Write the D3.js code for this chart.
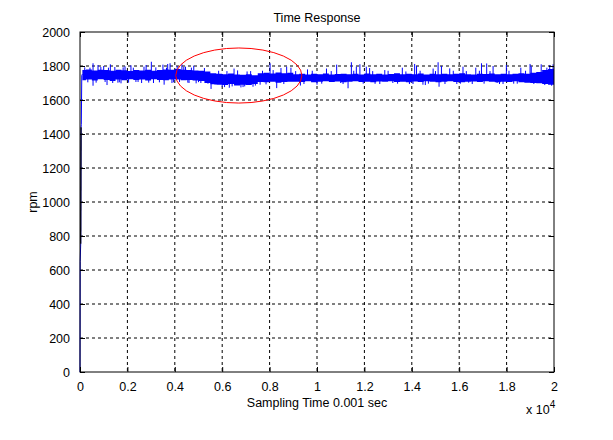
<!DOCTYPE html>
<html>
<head>
<meta charset="utf-8">
<script src="https://cdn.jsdelivr.net/npm/d3@7"></script>
<style>
  body { margin: 0; background: #fff; }
  text { font-family: "Liberation Sans", Arial, sans-serif; font-size: 12.5px; fill: #000; }
</style>
</head>
<body>
<div id="chart"></div>
<script>
// start-up transient (sample index, rpm)
const startT = [0, 8, 30, 45, 55, 75, 100];
const startRpm = [0, 650, 755, 1440, 1455, 1745, 1752];
const blackT = [30, 45];
const blackRpm = [755, 1440];

// noise band, one low/high pair per 250 samples
const blockSize = 250;
const bandHigh = [
  1776, 1780, 1774, 1778, 1776, 1772, 1778, 1775, 1770, 1776, 1774, 1778, 1772, 1776, 1780, 1778,
  1782, 1778, 1776, 1774, 1772, 1768,
  1758, 1755, 1752, 1756, 1750, 1748, 1752, 1746,
  1758, 1760, 1756, 1762, 1758, 1760,
  1752, 1755, 1750, 1754, 1752, 1756, 1750, 1753, 1755, 1751,
  1754, 1750, 1756, 1752, 1754, 1750, 1753, 1757, 1751, 1754,
  1752, 1756, 1750, 1754, 1752, 1755, 1751, 1754, 1757, 1752,
  1750, 1755, 1753, 1756, 1752, 1754, 1751, 1755, 1758, 1754,
  1760, 1764,
  1776, 1782
];
const bandLow = [
  1716, 1720, 1714, 1722, 1718, 1712, 1720, 1716, 1722, 1718, 1720, 1714, 1722, 1718, 1716, 1720,
  1720, 1716, 1718, 1714, 1712, 1700,
  1692, 1690, 1688, 1694, 1686, 1690, 1688, 1694,
  1706, 1704, 1708, 1702, 1706, 1708,
  1708, 1706, 1710, 1704, 1708, 1710, 1706, 1709, 1704, 1708,
  1710, 1706, 1708, 1704, 1709, 1707, 1710, 1706, 1708, 1704,
  1709, 1706, 1710, 1707, 1705, 1708, 1710, 1706, 1704, 1708,
  1709, 1706, 1710, 1707, 1705, 1708, 1706, 1710, 1704, 1702,
  1700, 1698,
  1694, 1690
];

// isolated spikes out of the band
const spikeT = [
  550, 550, 760, 1000, 1140, 1280, 1600, 1730, 1900, 2150, 2360, 2600, 2790, 3010, 3100, 3500,
  3550, 3700, 3800, 3950, 4100, 4300, 4450, 4600, 4800, 4900, 5000,
  5530, 5700, 6100, 6300, 6500, 6790, 6950, 7200, 7400, 7600, 8020, 8300, 8480, 8720, 8900,
  9300, 9600, 10000, 10400, 10830, 11000, 11310, 11450, 11660, 11810, 12080, 12220, 12450, 12860,
  13200, 13600, 13900, 14120, 14200, 14470, 14570, 14900, 15110, 15150, 15250, 15600, 15900, 16160,
  16400, 16700, 16940, 17160, 17430, 17600, 17850, 17990, 18300, 18600, 18990, 19040, 19300, 19460,
  19610, 19820, 19900, 19960
];
const spikeRpm = [
  1816, 1684, 1806, 1800, 1688, 1810, 1702, 1698, 1798, 1804, 1706, 1700, 1806, 1825, 1700, 1808,
  1690, 1812, 1816, 1704, 1800, 1810, 1796, 1700, 1802, 1698, 1705,
  1665, 1690, 1676, 1672, 1785, 1674, 1680, 1770, 1685, 1690, 1816, 1670, 1788, 1796, 1790,
  1685, 1780, 1690, 1785, 1808, 1700, 1669, 1822, 1796, 1810, 1796, 1788, 1695, 1776,
  1700, 1790, 1694, 1812, 1800, 1690, 1688, 1785, 1822, 1678, 1800, 1786, 1694, 1796,
  1702, 1790, 1816, 1815, 1800, 1700, 1694, 1806, 1696, 1790, 1812, 1798, 1700, 1810,
  1688, 1806, 1684, 1810
];

// short excursions just past the band edge (rough texture)
const rippleT = [
  200, 330, 420, 680, 880, 1060, 1200, 1380, 1470, 1660, 1820, 2050, 2250, 2450, 2700, 2900,
  3200, 3350, 3650, 3880, 4200, 4380, 4550, 4700, 5100, 5250, 5400, 5850, 6000, 6200,
  6420, 6650, 6880, 7050, 7300, 7700, 7850, 8150, 8600, 9100, 9450, 9800, 10200, 10600,
  11100, 11550, 11950, 12350, 12650, 13000, 13400, 13750, 14050, 14350, 14700, 15000, 15400,
  15750, 16050, 16300, 16550, 16850, 17050, 17300, 17700, 18100, 18450, 18800, 19150, 19700
];
const rippleRpm = [
  1792, 1704, 1790, 1702, 1794, 1706, 1790, 1700, 1794, 1704, 1792, 1702, 1790, 1706, 1796, 1702,
  1792, 1704, 1790, 1700, 1706, 1794, 1702, 1790, 1700, 1788, 1696, 1772, 1678, 1770,
  1680, 1774, 1676, 1768, 1678, 1772, 1692, 1776, 1694, 1770, 1694, 1772, 1696, 1770,
  1694, 1772, 1696, 1770, 1694, 1772, 1696, 1768, 1694, 1772, 1696, 1770, 1694,
  1772, 1696, 1770, 1694, 1772, 1696, 1770, 1694, 1772, 1696, 1772, 1694, 1790
];

const xTicks = [0, 2000, 4000, 6000, 8000, 10000, 12000, 14000, 16000, 18000, 20000];
const xTickLabels = ["0", "0.2", "0.4", "0.6", "0.8", "1", "1.2", "1.4", "1.6", "1.8", "2"];
const yTicks = [0, 200, 400, 600, 800, 1000, 1200, 1400, 1600, 1800, 2000];

// red ellipse marking the dip (centre and radii in data units)
const markCenter = [6700, 1744];
const markRadius = [2660, 162];

const margin = { top: 32, right: 59, bottom: 68, left: 80 },
      width = 613 - margin.left - margin.right,
      height = 440 - margin.top - margin.bottom;

const svg = d3.select("#chart").append("svg")
  .attr("width", 613)
  .attr("height", 440);

const g = svg.append("g")
  .attr("transform", `translate(${margin.left},${margin.top})`);

const x = d3.scaleLinear().domain([0, 20000]).range([0, width]);
const y = d3.scaleLinear().domain([0, 2000]).range([height, 0]);

// grid
g.append("g").selectAll("line")
  .data(xTicks.slice(1, -1))
  .join("line")
  .attr("x1", d => x(d)).attr("x2", d => x(d))
  .attr("y1", 0).attr("y2", height)
  .attr("stroke", "#000").attr("stroke-dasharray", "3,3");
g.append("g").selectAll("line")
  .data(yTicks.slice(1, -1))
  .join("line")
  .attr("x1", 0).attr("x2", width)
  .attr("y1", d => y(d)).attr("y2", d => y(d))
  .attr("stroke", "#000").attr("stroke-dasharray", "3,3");

const plot = g.append("g");

// noise band
const blocks = bandHigh.map((h, i) => ({ t: i * blockSize, lo: bandLow[i], hi: h }));
blocks.push({ t: 20000, lo: bandLow[bandLow.length - 1], hi: bandHigh[bandHigh.length - 1] });
blocks[0].t = startT[startT.length - 1];

plot.append("path")
  .datum(blocks)
  .attr("fill", "#0000ff")
  .attr("d", d3.area().curve(d3.curveStepAfter)
    .x(d => x(d.t)).y0(d => y(d.lo)).y1(d => y(d.hi)));

const bandMid = t => {
  const b = Math.min(Math.floor(t / blockSize), bandHigh.length - 1);
  return (bandHigh[b] + bandLow[b]) / 2;
};

// spikes and ripple
const excursions = spikeT.map((t, i) => ({ t, v: spikeRpm[i] }))
  .concat(rippleT.map((t, i) => ({ t, v: rippleRpm[i] })));

plot.append("g").selectAll("line")
  .data(excursions)
  .join("line")
  .attr("x1", d => x(d.t)).attr("x2", d => x(d.t))
  .attr("y1", d => y(bandMid(d.t)))
  .attr("y2", d => y(d.v))
  .attr("stroke", "#0000ff").attr("stroke-width", 1);

// start-up
const line = d3.line().x(d => x(d[0])).y(d => y(d[1]));
plot.append("path")
  .datum(startT.map((t, i) => [t, startRpm[i]]))
  .attr("fill", "none").attr("stroke", "#0000ff").attr("stroke-width", 1)
  .attr("d", line);
plot.append("path")
  .datum(blackT.map((t, i) => [t, blackRpm[i]]))
  .attr("fill", "none").attr("stroke", "#000").attr("stroke-width", 1.2)
  .attr("d", line);

// ellipse
g.append("ellipse")
  .attr("cx", x(markCenter[0])).attr("cy", y(markCenter[1]))
  .attr("rx", x(markRadius[0]) - x(0)).attr("ry", y(0) - y(markRadius[1]))
  .attr("fill", "none").attr("stroke", "#ff0000").attr("stroke-width", 1);

// axes (ticks inside, on all four sides)
g.append("g")
  .attr("transform", `translate(0,${height})`)
  .call(d3.axisBottom(x).tickValues(xTicks).tickSizeInner(-5).tickSizeOuter(0)
    .tickPadding(10).tickFormat((d, i) => xTickLabels[i]));
g.append("g")
  .call(d3.axisTop(x).tickValues(xTicks).tickSizeInner(-5).tickSizeOuter(0).tickFormat(""));
g.append("g")
  .call(d3.axisLeft(y).tickValues(yTicks).tickSizeInner(-5).tickSizeOuter(0)
    .tickPadding(10).tickFormat(d3.format("d")));
g.append("g")
  .attr("transform", `translate(${width},0)`)
  .call(d3.axisRight(y).tickValues(yTicks).tickSizeInner(-5).tickSizeOuter(0).tickFormat(""));

g.selectAll(".domain").remove();
g.selectAll(".tick text").style("font-size", "12.5px").style("font-family", "'Liberation Sans', Arial, sans-serif");

g.append("rect")
  .attr("width", width).attr("height", height)
  .attr("fill", "none").attr("stroke", "#000");

// labels
svg.append("text")
  .attr("x", margin.left + width / 2)
  .attr("y", 22)
  .attr("text-anchor", "middle")
  .text("Time Response");

svg.append("text")
  .attr("x", margin.left + width / 2)
  .attr("y", 407)
  .attr("text-anchor", "middle")
  .text("Sampling Time 0.001 sec");

svg.append("text")
  .attr("transform", `translate(37,${margin.top + height / 2}) rotate(-90)`)
  .attr("text-anchor", "middle")
  .text("rpm");

const exp = svg.append("text")
  .attr("x", 526)
  .attr("y", 414);
exp.append("tspan").text("x 10");
exp.append("tspan").attr("dy", -6).style("font-size", "10px").text("4");
</script>
</body>
</html>
